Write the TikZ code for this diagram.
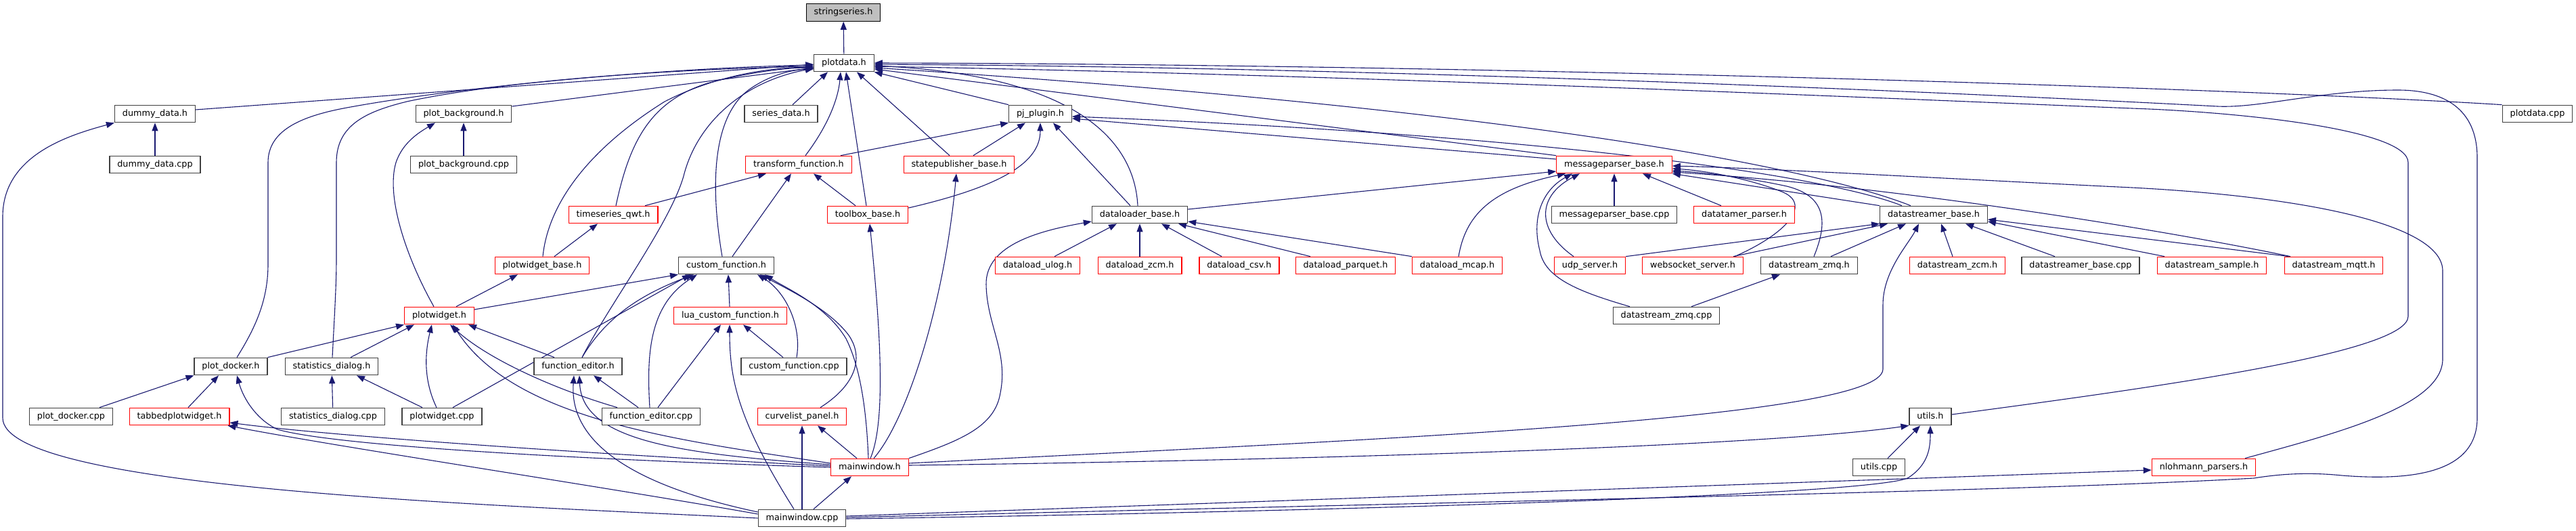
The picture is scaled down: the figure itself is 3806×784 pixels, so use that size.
\documentclass[tikz,border=0pt]{standalone}
\usepackage{fontspec}
\setmainfont{DejaVu Sans}
\usetikzlibrary{arrows.meta}
\pgfdeclarelayer{bg}
\pgfsetlayers{bg,main}
\definecolor{mblue}{HTML}{191970}
\definecolor{nred}{HTML}{FF0000}
\definecolor{nblack}{HTML}{404040}
\definecolor{ngray}{HTML}{BFBFBF}
\begin{document}
\begin{tikzpicture}[x=1pt,y=-1pt,
 box/.style={draw=nblack,line width=1.2pt,fill=white,font=\fontsize{12.8}{15}\selectfont,inner xsep=11.4pt,inner ysep=0pt,minimum height=25.5pt,text height=9.6pt,text depth=2.8pt},
 rbox/.style={box,draw=nred},
 gbox/.style={box,fill=ngray,draw=black},
 e/.style={draw=mblue,line width=1.1pt,-{Triangle[length=12pt,width=9pt]}}]
\useasboundingbox (0,0) rectangle (3806,784);
% ---------- nodes
\node[gbox] (stringseries) at (1246,18.5) {stringseries.h};
\node[box] (plotdata) at (1247,93) {plotdata.h};
\node[box] (dummyh) at (229,168) {dummy\_data.h};
\node[box] (dummycpp) at (229,243) {dummy\_data.cpp};
\node[box] (plotbgh) at (685,168) {plot\_background.h};
\node[box] (plotbgcpp) at (685,243) {plot\_background.cpp};
\node[box] (seriesdata) at (1154,168) {series\_data.h};
\node[box] (pjplugin) at (1537,168) {pj\_plugin.h};
\node[box] (plotdatacpp) at (3749,168) {plotdata.cpp};
\node[rbox] (transform) at (1180,243) {transform\_function.h};
\node[rbox] (statepub) at (1417,243) {statepublisher\_base.h};
\node[rbox] (msgparser) at (2385,243) {messageparser\_base.h};
\node[rbox] (tsqwt) at (906,317) {timeseries\_qwt.h};
\node[rbox] (toolbox) at (1282,317) {toolbox\_base.h};
\node[box] (dataloader) at (1684,317) {dataloader\_base.h};
\node[box] (msgparsercpp) at (2385,317) {messageparser\_base.cpp};
\node[rbox] (datatamer) at (2577,317) {datatamer\_parser.h};
\node[box] (datastreamer) at (2857,317) {datastreamer\_base.h};
\node[rbox] (pwbase) at (801,392) {plotwidget\_base.h};
\node[box] (customh) at (1073,392) {custom\_function.h};
\node[rbox] (ulog) at (1533,392) {dataload\_ulog.h};
\node[rbox] (dlzcm) at (1684,392) {dataload\_zcm.h};
\node[rbox] (csv) at (1831,392) {dataload\_csv.h};
\node[rbox] (parquet) at (1988,392) {dataload\_parquet.h};
\node[rbox] (mcap) at (2153,392) {dataload\_mcap.h};
\node[rbox] (udp) at (2349,392) {udp\_server.h};
\node[rbox] (websocket) at (2501,392) {websocket\_server.h};
\node[box] (zmqh) at (2673,392) {datastream\_zmq.h};
\node[rbox] (dszcm) at (2892,392) {datastream\_zcm.h};
\node[box] (dscpp) at (3074,392) {datastreamer\_base.cpp};
\node[rbox] (sample) at (3268,392) {datastream\_sample.h};
\node[rbox] (mqtt) at (3448,392) {datastream\_mqtt.h};
\node[rbox] (pwh) at (649,466) {plotwidget.h};
\node[rbox] (lua) at (1079,466) {lua\_custom\_function.h};
\node[box] (zmqcpp) at (2462,466) {datastream\_zmq.cpp};
\node[box] (dockerh) at (341,541) {plot\_docker.h};
\node[box] (statsh) at (490,541) {statistics\_dialog.h};
\node[box] (fedith) at (854,541) {function\_editor.h};
\node[box] (customcpp) at (1173,541) {custom\_function.cpp};
\node[box] (dockercpp) at (105,615) {plot\_docker.cpp};
\node[rbox] (tabbed) at (265,615) {tabbedplotwidget.h};
\node[box] (statscpp) at (492,615) {statistics\_dialog.cpp};
\node[box] (pwcpp) at (653,615) {plotwidget.cpp};
\node[box] (feditcpp) at (962,615) {function\_editor.cpp};
\node[rbox] (curvelist) at (1185,615) {curvelist\_panel.h};
\node[box] (utilsh) at (2852,615) {utils.h};
\node[rbox] (mainh) at (1285,690) {mainwindow.h};
\node[box] (utilscpp) at (2776,690) {utils.cpp};
\node[rbox] (nlohmann) at (3256,690) {nlohmann\_parsers.h};
\node[box] (maincpp) at (1185,765) {mainwindow.cpp};
% ---------- edges
\begin{pgfonlayer}{bg}
\fill[white] (0,0) rectangle (3806,784);
% into plotdata / stringseries
\draw[e] (plotdata) -- (stringseries);
\draw[e] ([yshift=6pt]dummyh.east) -- ([yshift=-2pt]plotdata.west);
\draw[e] (dummycpp) -- (dummyh);
\draw[e] ([yshift=11pt]plotbgh.east) -- ([yshift=-7pt]plotdata.west);
\draw[e] (plotbgcpp) -- (plotbgh);
\draw[e] ([xshift=17pt]seriesdata.north) -- ([xshift=-24pt]plotdata.south);
\draw[e] (pjplugin.north west) -- (plotdata.south east);
\draw[e] ([xshift=10pt]transform.north) .. controls (1220,190) and (1238,150) .. ([xshift=-5pt]plotdata.south);
\draw[e] ([xshift=62pt]transform.north) -- (pjplugin.south west);
\draw[e] ([xshift=-14pt]statepub.north) -- ([xshift=19pt]plotdata.south);
\draw[e] ([xshift=21pt]statepub.north) -- ([xshift=-22pt]pjplugin.south);
\draw[e] ([xshift=-2pt]toolbox.north) -- ([xshift=3pt]plotdata.south);
\draw[e] ([xshift=-18pt]toolbox.north) -- ([xshift=22pt]transform.south);
\draw[e] ([yshift=10pt]toolbox.east) .. controls (1480,275) and (1537,240) .. (pjplugin.south);
\draw[e] ([xshift=-3pt]dataloader.north) .. controls (1675,190) and (1560,110) .. ([yshift=-4pt]plotdata.east);
\draw[e] ([xshift=-14pt]dataloader.north) -- ([xshift=19pt]pjplugin.south);
\draw[e] ([yshift=8pt]dataloader.east) -- ([yshift=-10pt]msgparser.west);
\draw[e] (msgparser.north west) -- ([yshift=-9pt]plotdata.east);
\draw[e] ([yshift=8pt]msgparser.west) -- ([yshift=-7pt]pjplugin.east);
\draw[e] ([xshift=-34pt]datastreamer.north) .. controls (2700,255) and (2300,165) .. ([yshift=-7pt]plotdata.east);
\draw[e] ([xshift=-47pt]datastreamer.north) .. controls (2700,260) and (2300,200) .. ([yshift=-4pt]pjplugin.east);
\draw[e] (datastreamer.north west) -- (msgparser.south east);
\draw[e] (plotdatacpp.north west) .. controls (3300,130) and (2200,95) .. (plotdata.east);
\draw[e] ([yshift=1pt]maincpp.east) .. controls (2200,740) and (3000,725) .. (3330,706)
  .. controls (3380,698) and (3420,698) .. (3460,702)
  .. controls (3560,710) and (3660,700) .. (3660,617) -- (3660,233)
  .. controls (3660,160) and (3610,133) .. (3543,133)
  .. controls (3430,133) and (3340,160) .. (3276,157)
  .. controls (3180,152) and (2200,100) .. ([yshift=-2pt]plotdata.east);
\draw[e] ([yshift=3pt]utilsh.east) .. controls (3200,570) and (3558,520) .. (3558,467) -- (3558,240)
  .. controls (3558,190) and (3300,165) .. (3150,160)
  .. controls (2900,150) and (2000,110) .. ([yshift=-5pt]plotdata.east);
\draw[e] ([xshift=61pt]nlohmann.north) .. controls (3450,640) and (3609,600) .. (3609,530) -- (3609,400)
  .. controls (3609,330) and (3400,290) .. (3150,277)
  .. controls (2900,265) and (2600,248) .. ([yshift=-2pt]msgparser.east);
\draw[e] ([yshift=3pt]maincpp.east) -- ([yshift=-4pt]nlohmann.west);
\draw[e] ([yshift=-1pt]maincpp.east) .. controls (2000,755) and (2780,730) .. (2820,705)
  .. controls (2850,685) and (2852,660) .. (utilsh.south);
\draw[e] ([yshift=3pt]mainh.east) .. controls (1900,680) and (2600,660) .. (utilsh.south west);
\draw[e] ([yshift=6pt]mainh.east) .. controls (2000,650) and (2782,620) .. (2782,545) -- (2782,450)
  .. controls (2782,400) and (2820,360) .. ([xshift=-22pt]datastreamer.south);
\draw[e] (mainh.north east) .. controls (1420,650) and (1470,630) .. (1478,580)
  .. controls (1490,520) and (1458,480) .. (1457,420)
  .. controls (1456,360) and (1540,340) .. ([yshift=-10pt]dataloader.west);
\draw[e] ([xshift=6pt]mainh.north) .. controls (1340,620) and (1395,450) .. ([xshift=-4pt]statepub.south);
\draw[e] ([xshift=1pt]mainh.north) .. controls (1310,620) and (1300,480) .. ([xshift=3pt]toolbox.south);
\draw[e] ([xshift=-2pt]mainh.north) .. controls (1280,600) and (1270,540) .. (1250,500)
  .. controls (1220,450) and (1160,425) .. ([xshift=57pt]customh.south);
\draw[e] ([xshift=27pt]curvelist.north) .. controls (1262,570) and (1278,530) .. (1254,495)
  .. controls (1224,455) and (1160,425) .. ([xshift=50pt]customh.south);
\draw[e] ([xshift=-1pt]lua.north) -- ([xshift=3pt]customh.south);
\draw[e] ([xshift=4pt]customcpp.north) .. controls (1185,480) and (1160,430) .. ([xshift=46pt]customh.south);
\draw[e] ([xshift=-16pt]customcpp.north) -- ([xshift=19pt]lua.south);
\draw[e] ([xshift=10pt]feditcpp.north) -- ([xshift=-14pt]lua.south);
\draw[e] ([xshift=-2pt]feditcpp.north) .. controls (955,520) and (960,450) .. ([xshift=-43pt]customh.south);
\draw[e] ([xshift=-19pt]feditcpp.north) -- ([xshift=23pt]fedith.south);
\draw[e] ([xshift=-50pt]feditcpp.north) .. controls (820,575) and (720,530) .. ([xshift=16pt]pwh.south);
\draw[e] ([yshift=6pt]mainh.west) .. controls (1000,650) and (760,620) .. ([xshift=20pt]pwh.south);
\draw[e] ([yshift=4pt]mainh.west) .. controls (1000,670) and (860,650) .. ([xshift=2pt]fedith.south);
\draw[e] ([yshift=9pt]maincpp.west) .. controls (950,720) and (840,660) .. ([xshift=-6pt]fedith.south);
\draw[e] ([xshift=-12pt]maincpp.north) .. controls (1090,620) and (1078,560) .. ([xshift=-1pt]lua.south);
\draw[e] (maincpp) -- (curvelist);
\draw[e] ([xshift=17pt]maincpp.north) -- ([xshift=-27pt]mainh.south);
\draw[e] ([xshift=-19pt]mainh.north) -- ([xshift=23pt]curvelist.south);
\draw[e] ([yshift=6pt]maincpp.west) .. controls (900,720) and (500,660) .. ([xshift=-3pt]tabbed.south east);
\draw[e] ([yshift=2pt]mainh.west) .. controls (900,672) and (500,645) .. ([yshift=-9pt]tabbed.east);
\draw[e] (mainh.west) .. controls (900,680) and (500,660) .. (410,634)
  .. controls (380,620) and (360,590) .. ([xshift=9pt]dockerh.south);
\draw[e] (maincpp.west) .. controls (700,745) and (4,720) .. (4,617) -- (4,320)
  .. controls (4,230) and (100,200) .. (dummyh.south west);
\draw[e] ([xshift=9pt]dockerh.north) .. controls (380,480) and (396,440) .. (396,390) -- (396,240)
  .. controls (396,190) and (450,170) .. (518,158)
  .. controls (700,125) and (1000,100) .. ([yshift=-3pt]plotdata.west);
\draw[e] ([xshift=1pt]statsh.north) .. controls (495,450) and (497,420) .. (497,380) -- (497,240)
  .. controls (497,185) and (540,165) .. (601,150)
  .. controls (750,118) and (1000,102) .. ([yshift=-5pt]plotdata.west);
\draw[e] ([xshift=1pt]pwbase.north) .. controls (810,300) and (870,220) .. (982,150)
  .. controls (1060,110) and (1140,100) .. ([yshift=-6pt]plotdata.west);
\draw[e] ([xshift=4pt]tsqwt.north) .. controls (930,210) and (960,150) .. (1045,123)
  .. controls (1100,108) and (1160,100) .. ([yshift=-7pt]plotdata.west);
\draw[e] ([xshift=6pt]fedith.north) .. controls (900,450) and (990,330) .. (1010,260)
  .. controls (1030,180) and (1100,120) .. ([yshift=-8pt]plotdata.west);
\draw[e] ([xshift=-6pt]customh.north) .. controls (1050,280) and (1050,170) .. (1110,130)
  .. controls (1140,110) and (1170,103) .. ([yshift=-9pt]plotdata.west);
\draw[e] ([xshift=9pt]customh.north) -- ([xshift=-11pt]transform.south);
\draw[e] ([xshift=47pt]tsqwt.north) -- ([xshift=-48pt]transform.south);
\draw[e] ([xshift=18pt]pwbase.north) -- ([xshift=-23pt]tsqwt.south);
\draw[e] ([xshift=25pt]pwh.north) -- ([xshift=-36pt]pwbase.south);
\draw[e] ([yshift=9pt]pwh.east) -- (customh.south west);
\draw[e] ([xshift=-8pt]pwh.north) .. controls (600,380) and (570,290) .. (585,240)
  .. controls (595,210) and (620,195) .. ([xshift=-42pt]plotbgh.south);
\draw[e] ([xshift=-35pt]fedith.north) -- ([xshift=43pt]pwh.south);
\draw[e] ([xshift=6pt]fedith.north) .. controls (900,460) and (960,430) .. ([xshift=-48pt]customh.south);
\draw[e] ([xshift=-8pt]pwcpp.north) .. controls (625,560) and (628,520) .. ([xshift=-11pt]pwh.south);
\draw[e] ([xshift=16pt]pwcpp.north) -- ([xshift=-53pt]customh.south);
\draw[e] ([xshift=-29pt]pwcpp.north) -- ([xshift=37pt]statsh.south);
\draw[e] (dockerh.north east) -- (pwh.south west);
\draw[e] ([xshift=28pt]statsh.north) -- ([xshift=-37pt]pwh.south);
\draw[e] (statscpp) -- (statsh);
\draw[e] ([xshift=42pt]dockercpp.north) -- (dockerh.south west);
\draw[e] ([xshift=13pt]tabbed.north) -- ([xshift=-18pt]dockerh.south);
\draw[e] ([xshift=13pt]utilscpp.north) -- ([xshift=-15pt]utilsh.south);
% data loaders
\draw[e] ([xshift=25pt]ulog.north) -- ([xshift=-34pt]dataloader.south);
\draw[e] (dlzcm) -- (dataloader);
\draw[e] ([xshift=-26pt]csv.north) -- ([xshift=32pt]dataloader.south);
\draw[e] ([xshift=-52pt]parquet.north) -- ([xshift=57pt]dataloader.south);
\draw[e] (mcap.north west) -- ([yshift=-10pt]dataloader.east);
\draw[e] ([xshift=2pt]mcap.north) .. controls (2165,320) and (2200,280) .. ([xshift=-72pt]msgparser.south);
% message parsers / streamers
\draw[e] (msgparsercpp) -- (msgparser);
\draw[e] ([xshift=-34pt]datatamer.north) -- ([xshift=42pt]msgparser.south);
\draw[e] ([xshift=-24pt]udp.north) .. controls (2270,340) and (2270,290) .. ([xshift=-51pt]msgparser.south);
\draw[e] ([xshift=-54pt]zmqcpp.north) .. controls (2330,430) and (2282,410) .. (2275,370)
  .. controls (2262,320) and (2280,280) .. ([xshift=-62pt]msgparser.south);
\draw[e] ([xshift=37pt]zmqcpp.north) -- ([xshift=-43pt]zmqh.south);
\draw[e] (udp.north east) -- (datastreamer.south west);
\draw[e] ([xshift=60pt]websocket.north) -- ([xshift=-68pt]datastreamer.south);
\draw[e] ([xshift=62pt]websocket.north) .. controls (2640,345) and (2680,300) .. (2630,282)
  .. controls (2580,263) and (2520,252) .. ([yshift=-6pt]msgparser.east);
\draw[e] ([xshift=7pt]zmqh.north) .. controls (2700,330) and (2700,290) .. (2640,275)
  .. controls (2580,262) and (2520,255) .. ([yshift=-9pt]msgparser.east);
\draw[e] ([xshift=32pt]zmqh.north) -- ([xshift=-41pt]datastreamer.south);
\draw[e] ([xshift=-7pt]dszcm.north) -- ([xshift=11pt]datastreamer.south);
\draw[e] ([xshift=-38pt]dscpp.north) -- ([xshift=47pt]datastreamer.south);
\draw[e] ([xshift=-70pt]sample.north) -- ([yshift=-10pt]datastreamer.east);
\draw[e] ([xshift=-66pt]mqtt.north) -- ([yshift=-7pt]datastreamer.east);
\draw[e] ([xshift=-64pt]mqtt.north) .. controls (3200,340) and (2800,275) .. ([yshift=-11pt]msgparser.east);
\end{pgfonlayer}
\end{tikzpicture}
\end{document}
